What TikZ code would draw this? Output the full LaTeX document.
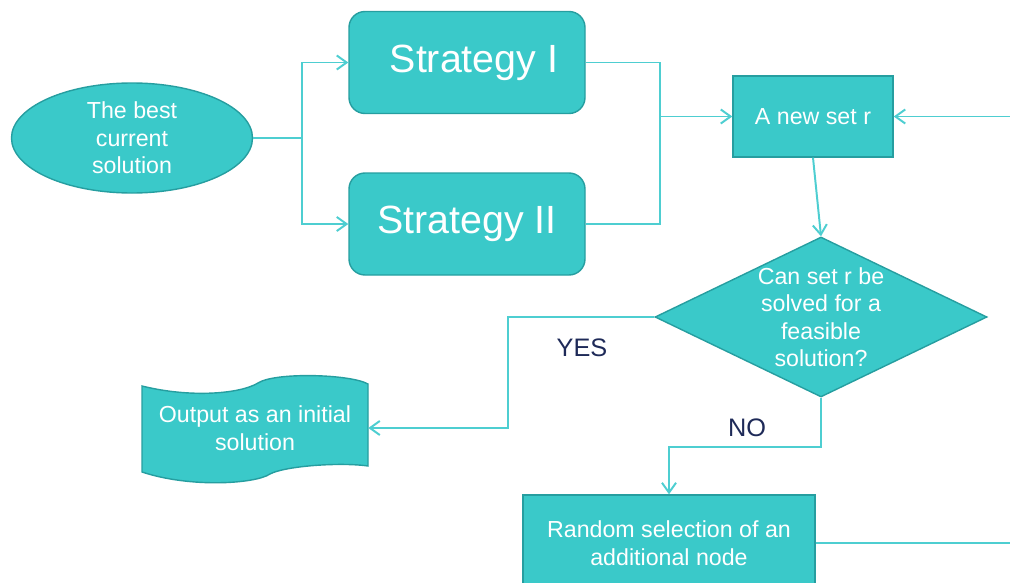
\documentclass[tikz,border=0pt]{standalone}
\usepackage{fontspec}
\setmainfont{Liberation Sans}
\usepackage{tikz}
\usetikzlibrary{arrows.meta,shapes.geometric,calc}
\definecolor{boxfill}{RGB}{58,201,201}
\definecolor{boxline}{RGB}{38,158,160}
\definecolor{flowline}{RGB}{78,206,209}
\definecolor{labelnavy}{RGB}{30,42,88}

\begin{document}
\begin{tikzpicture}[
  shapebox/.style={fill=boxfill, draw=boxline, line width=1pt, text=white, align=center,
    font=\fontsize{16.5}{19.5}\selectfont},
  strategybox/.style={shapebox, rounded corners=0.4cm, minimum width=5.9cm, minimum height=2.55cm,
    font=\fontsize{28}{30}\selectfont},
  link/.style={draw=flowline, line width=1.4pt},
  flow/.style={link, -{Straight Barb[length=7pt,width=10pt]}},
  answer/.style={text=labelnavy, font=\fontsize{18}{20}\selectfont}]
\clip (0cm,0cm) rectangle (25.25cm,-14.575cm);
\node[shapebox, ellipse, inner sep=0pt, minimum width=6.025cm, minimum height=2.75cm] (best) at (3.3cm,-3.45cm) {The best\\current\\solution};
\node[strategybox] (s1) at (11.675cm,-1.5625cm) {\raisebox{-0.1cm}{\hspace*{0.35cm}Strategy I}};
\node[strategybox] (s2) at (11.675cm,-5.6cm) {\raisebox{-0.1cm}{Strategy II}};
\node[shapebox, minimum width=4cm, minimum height=2.025cm] (newset) at (20.325cm,-2.9125cm) {A new set r};
\node[shapebox, diamond, shape aspect=2, inner sep=-4pt, minimum width=8.3cm, minimum height=4cm] (check) at (20.525cm,-7.925cm) {Can set r be\\solved for a\\feasible\\solution?};
\filldraw[fill=boxfill, draw=boxline, line width=1pt] (3.55cm,-9.65cm) .. controls (4.75cm,-9.95cm) and (6cm,-9.85cm) .. (6.45cm,-9.575cm) .. controls (6.875cm,-9.3cm) and (8.75cm,-9.35cm) .. (9.2cm,-9.6cm) -- (9.2cm,-11.65cm) .. controls (8.5cm,-11.55cm) and (7.125cm,-11.65cm) .. (6.75cm,-11.85cm) .. controls (6.375cm,-12.1cm) and (4.75cm,-12.2cm) .. (3.55cm,-11.8cm) -- cycle;
\node[text=white, align=center, font=\fontsize{16.5}{19.5}\selectfont, minimum width=5.65cm, minimum height=2.1cm] (output) at (6.375cm,-10.7cm) {Output as an initial\\solution};
\node[shapebox, minimum width=7.3cm, minimum height=2.4cm] (random) at (16.725cm,-13.575cm) {Random selection of an\\additional node};
\node[answer] (yes) at (14.55cm,-8.7cm) {YES};
\node[answer] (no) at (18.675cm,-10.7cm) {NO};
\coordinate (join) at (16.5cm,-2.9125cm);
\coordinate (loopin) at (25.25cm,-2.9125cm);
\coordinate (yesbend) at (12.7cm,-10.7cm);
\draw[flow] (best.east) -- ++(1.225cm,0cm) |- (s1.west);
\draw[flow] (best.east) -- ++(1.225cm,0cm) |- (s2.west);
\draw[link] (s1.east) -| (join);
\draw[link] (s2.east) -| (join);
\draw[flow] (join) -- (newset.west);
\draw[flow] (loopin) -- (newset.east);
\draw[flow] (newset.south) -- (check.north);
\draw[flow] (check.west) -| (yesbend) -- (output.east);
\draw[flow] (check.south) -- ++(0cm,-1.225cm) -| (random.north);
\draw[link] (random.east) -- (random.east -| loopin);
\end{tikzpicture}
\end{document}
